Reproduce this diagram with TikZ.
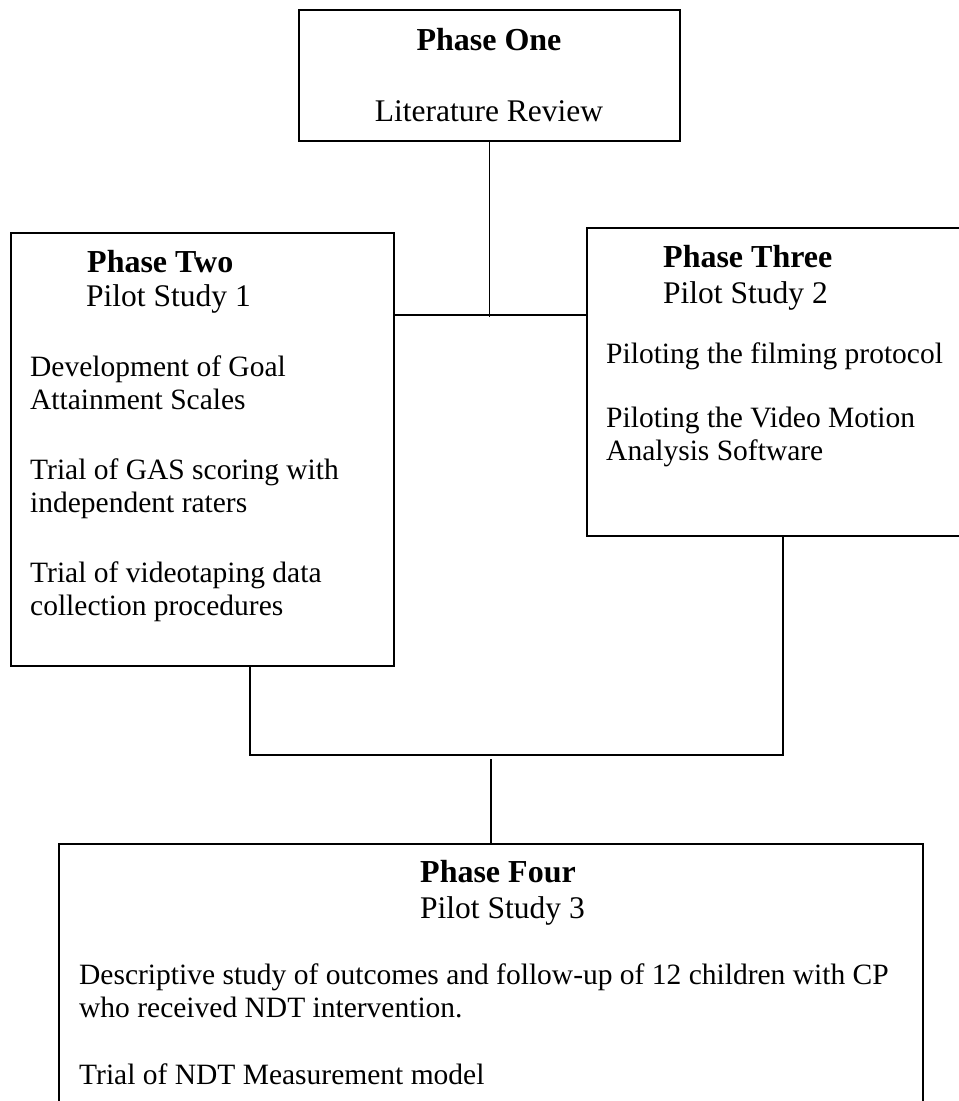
\documentclass[tikz,border=0pt]{standalone}
\usepackage{fontspec}
\setmainfont{Liberation Serif}
\begin{document}
\begin{tikzpicture}[x=1pt,y=1pt,
  box/.style={draw, line width=1.6pt, inner sep=0pt, anchor=north west},
  txt/.style={inner sep=0pt, anchor=base west, font=\fontsize{29.5}{33}\selectfont},
  sub/.style={inner sep=0pt, anchor=base west, font=\fontsize{31.5}{35}\selectfont},
  hd/.style={inner sep=0pt, anchor=base west, font=\fontsize{32}{35}\selectfont\bfseries},
  link/.style={draw, line width=1.6pt}]
\useasboundingbox (0,0) rectangle (959,-1101);
% boxes
\node[box, minimum width=381pt, minimum height=131pt] (p1) at (298,-9) {};
\node[box, minimum width=383pt, minimum height=433pt] (p2) at (10,-232) {};
\node[box, minimum width=400pt, minimum height=308pt] (p3) at (586,-227) {};
\node[box, minimum width=864pt, minimum height=290pt] (p4) at (58,-843) {};
% Phase One text
\node[hd, anchor=base] (p1a) at (489,-50) {Phase One};
\node[sub, anchor=base] (p1b) at (489,-121) {Literature Review};
% Phase Two text
\node[hd] (p2a) at (87,-272) {Phase Two};
\node[sub] (p2b) at (86,-306) {Pilot Study 1};
\node[txt] (p2c) at (30,-376) {Development of Goal};
\node[txt] (p2d) at (30,-409) {Attainment Scales};
\node[txt] (p2e) at (30,-479) {Trial of GAS scoring with};
\node[txt] (p2f) at (30,-512) {independent raters};
\node[txt] (p2g) at (30,-582) {Trial of videotaping data};
\node[txt] (p2h) at (30,-615) {collection procedures};
% Phase Three text
\node[hd] (p3a) at (663,-267) {Phase Three};
\node[sub] (p3b) at (663,-303) {Pilot Study 2};
\node[txt] (p3c) at (606,-363) {Piloting the filming protocol};
\node[txt] (p3d) at (606,-427) {Piloting the Video Motion};
\node[txt] (p3e) at (606,-460) {Analysis Software};
% Phase Four text
\node[hd] (p4a) at (420,-882) {Phase Four};
\node[sub] (p4b) at (420,-918) {Pilot Study 3};
\node[txt] (p4c) at (79,-984) {Descriptive study of outcomes and follow-up of 12 children with CP};
\node[txt] (p4d) at (79,-1017) {who received NDT intervention.};
\node[txt] (p4e) at (79,-1084) {Trial of NDT Measurement model};
% connectors
\coordinate (j1y) at (0,-317);
\coordinate (hy) at (0,-315);
\coordinate (uy) at (0,-755);
\coordinate (ux1) at (250,0);
\coordinate (ux2) at (783,0);
\coordinate (j2y) at (0,-759);
\draw[link] (p1.south) -- (p1.south |- j1y);
\draw[link] (p2.east |- hy) -- (p3.west |- hy);
\draw[link] (p2.south -| ux1) -- (ux1 |- uy) -- (ux2 |- uy) -- (p3.south -| ux2);
\draw[link] (p4.north |- j2y) -- (p4.north);
\end{tikzpicture}
\end{document}
